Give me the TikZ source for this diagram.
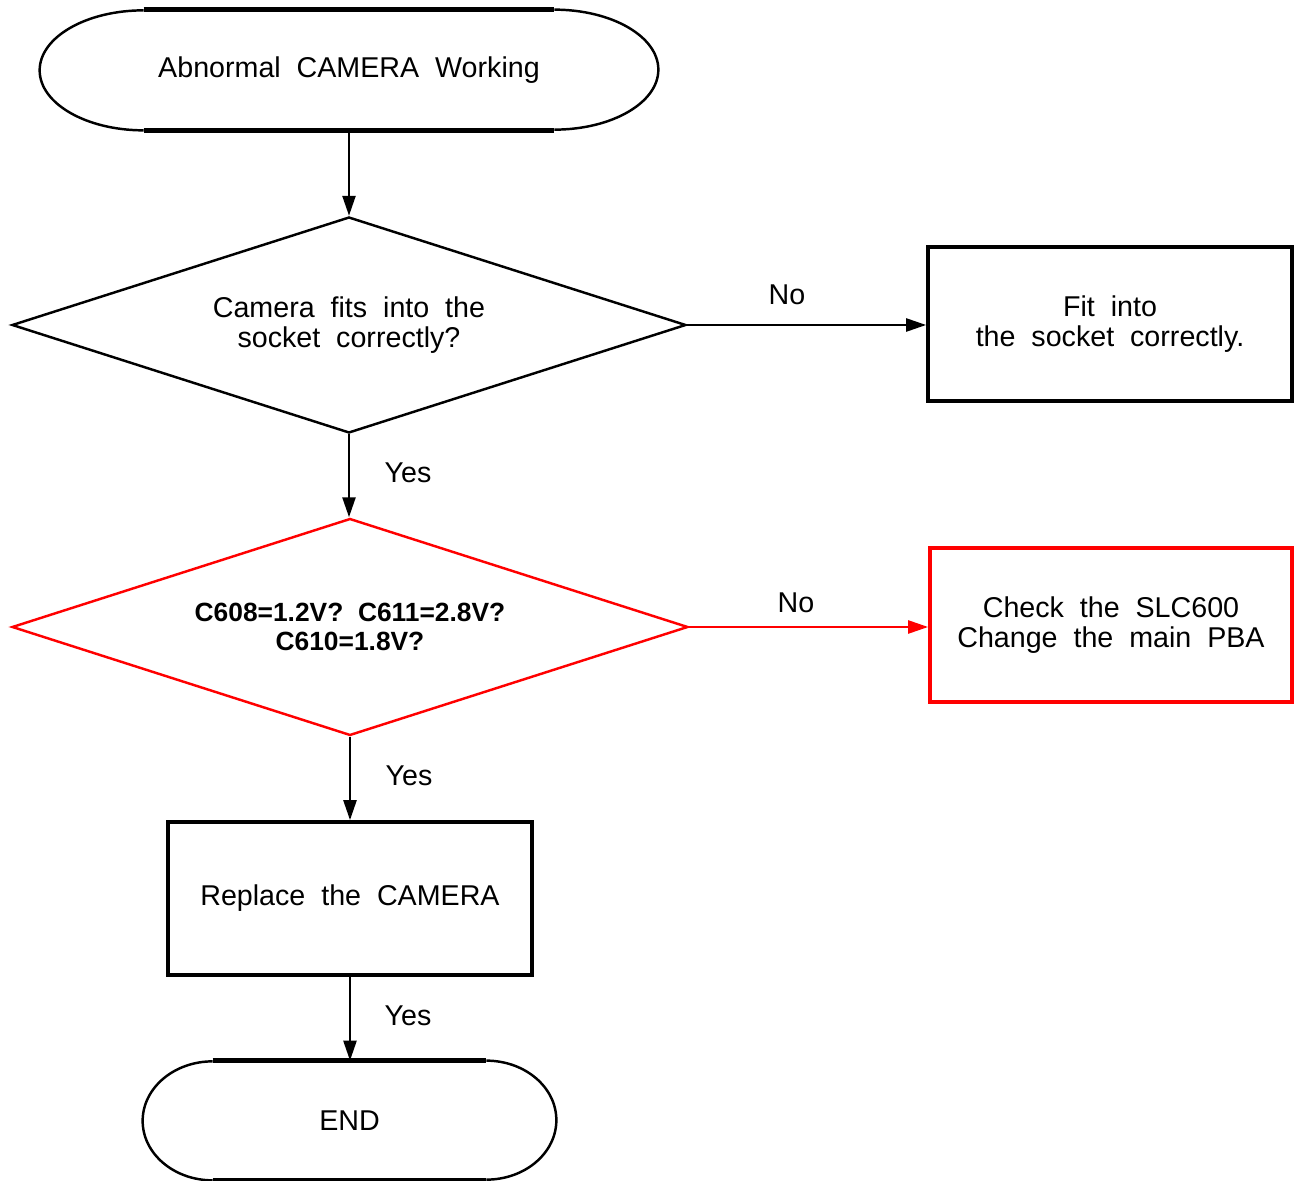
\documentclass[tikz,border=0pt]{standalone}
\usepackage{fontspec}
\setmainfont{Liberation Sans}[WordSpace=2]
\usepackage{tikz}
\usetikzlibrary{arrows.meta,%
		calc,%
		positioning,%
		shapes.geometric}

\tikzset{
	box/.style={draw, line width=2.1pt, rectangle, inner sep=0pt, align=center},
	ask/.style={draw, line width=1.4pt, diamond, shape aspect=3.12, inner sep=0pt, align=center},
	term/.style={inner sep=0pt, align=center},
	termline/.style={line width=2.6pt},
	termarc/.style={line width=1.4pt},
	go/.style={line width=1.4pt, -{Triangle[length=4mm,width=2.6mm]}},
	lbl/.style={inner sep=0pt}
}

\begin{document}
\begin{tikzpicture}[font=\fontsize{16.3}{16.7}\selectfont]
\useasboundingbox (0,0) rectangle (25.88,-23.62);

% terminals
\node[term, minimum width=12.36cm, minimum height=2.40cm] (start) at (6.98,-1.40) {Abnormal  CAMERA  Working};
\node[term, minimum width=8.26cm, minimum height=2.38cm] (end) at (6.99,-22.41) {END};

\foreach \t/\rx/\ry in {start/2.08/1.20, end/1.40/1.19}{
	\draw[termline] ([xshift=\rx cm]\t.north west) -- ([xshift=-\rx cm]\t.north east);
	\draw[termline] ([xshift=\rx cm]\t.south west) -- ([xshift=-\rx cm]\t.south east);
	\draw[termarc] ([xshift=-\rx cm]\t.north east) arc[start angle=90, end angle=-90, x radius=\rx cm, y radius=\ry cm];
	\draw[termarc] ([xshift=\rx cm]\t.south west) arc[start angle=270, end angle=90, x radius=\rx cm, y radius=\ry cm];
}

% questions
\node[ask, minimum width=13.48cm, minimum height=4.32cm] (fits) at (6.98,-6.50) {Camera  fits  into  the\\ socket  correctly?};
\node[ask, draw=red, minimum width=13.52cm, minimum height=4.34cm] (volt) at (7.00,-12.54)
	{\bfseries\fontsize{15}{14.7}\selectfont C608=1.2V?  C611=2.8V?\\ \bfseries\fontsize{15}{14.7}\selectfont C610=1.8V?};

% actions
\node[box, minimum width=7.28cm, minimum height=3.08cm] (refit) at (22.20,-6.48) {Fit  into\\ the  socket  correctly.};
\node[box, draw=red, minimum width=7.24cm, minimum height=3.08cm] (pba) at (22.22,-12.50) {Check  the  SLC600\\ Change  the  main  PBA};
\node[box, minimum width=7.28cm, minimum height=3.06cm] (cam) at (7.00,-17.97) {Replace  the  CAMERA};

% connectors
\draw[go] (start.south) -- (start.south |- fits.north);
\draw[go] (fits.east) -- (fits.east -| refit.west);
\draw[go] (fits.south) -- (fits.south |- volt.north);
\draw[go, red] (volt.east) -- (volt.east -| pba.west);
\draw[go] (volt.south) -- (volt.south |- cam.north);
\draw[go] (cam.south) -- (cam.south |- end.north);

% labels
\node[lbl] (no1) at (15.74,-5.90) {No};
\node[lbl] (yes1) at (8.16,-9.46) {Yes};
\node[lbl] (no2) at (15.92,-12.06) {No};
\node[lbl] (yes2) at (8.18,-15.52) {Yes};
\node[lbl] (yes3) at (8.16,-20.32) {Yes};
\end{tikzpicture}
\end{document}
